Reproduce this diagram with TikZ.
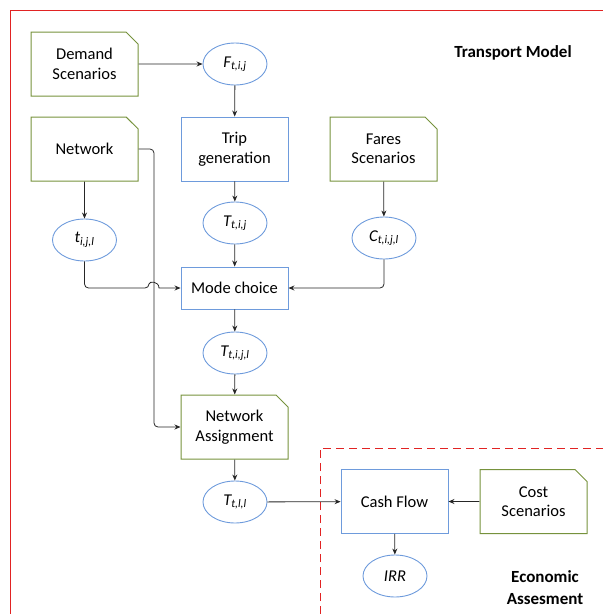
\documentclass[tikz,border=0pt]{standalone}
\usepackage{fontspec}
\setmainfont{Carlito}
\usetikzlibrary{shapes.geometric,shapes.misc,arrows.meta}
\definecolor{datagreen}{RGB}{118,146,60}
\definecolor{stepblue}{RGB}{110,155,220}
\definecolor{framered}{RGB}{225,35,35}
\newcommand{\var}[2]{\textit{#1\textsubscript{#2}}}
\tikzset{
  datafile/.style={draw=datagreen, line width=1pt, chamfered rectangle,
    chamfered rectangle corners=north east, chamfered rectangle xsep=6pt,
    chamfered rectangle ysep=6pt, minimum width=107pt, minimum height=64pt,
    inner sep=0pt, align=center},
  stepbox/.style={draw=stepblue, line width=0.9pt, rectangle, minimum width=107pt,
    minimum height=64pt, inner sep=0pt, align=center},
  varnode/.style={draw=stepblue, line width=0.9pt, ellipse, minimum width=64pt,
    minimum height=42pt, inner sep=0pt},
  conn/.style={draw=black!85, line width=0.8pt},
  title/.style={font=\fontsize{17}{22}\selectfont\bfseries, align=center}
}
\begin{document}
\begin{tikzpicture}[x=1pt, y=-1pt, >={Stealth[length=6pt,width=5pt]},
  every node/.style={font=\fontsize{16.5}{19.5}\selectfont}]
\useasboundingbox (0,0) rectangle (603,614);

% frames
\draw[framered, line width=1pt] (10,614) -- (10,10) -- (603,10);
\draw[framered, line width=1pt, dash pattern=on 8pt off 5pt] (320,614) -- (320,448) -- (603,448);

\node[title] (tm) at (513,53) {Transport Model};
\node[title] (ea) at (545,588) {Economic\\Assesment};

% transport model
\node[datafile] (demand) at (84.5,64) {Demand\\Scenarios};
\node[varnode] (ftij) at (235,64) {\var{F}{t,i,j}};
\node[datafile] (network) at (84.5,149) {Network};
\node[stepbox] (trip) at (234.5,149) {Trip\\generation};
\node[datafile] (fares) at (383.5,149) {Fares\\Scenarios};
\node[varnode] (tijl) at (84.5,240) {\var{t}{i,j,l}};
\node[varnode] (ttij) at (235,223) {\var{T}{t,i,j}};
\node[varnode] (ctijl) at (384,238) {\var{C}{t,i,j,l}};
\node[stepbox, minimum height=42pt] (mode) at (234.5,288) {Mode choice};
\node[varnode] (ttijl) at (235,353) {\var{T}{t,i,j,l}};
\node[datafile] (assign) at (234.5,427) {Network\\Assignment};
\node[varnode] (ttll) at (235,502) {\var{T}{t,l,l}};

% economic assesment
\node[stepbox] (cash) at (394.5,501.5) {Cash Flow};
\node[datafile] (cost) at (533.5,501.5) {Cost\\Scenarios};
\node[varnode] (irr) at (395,576) {\textit{IRR}};

\draw[conn,->] (demand) -- (ftij);
\draw[conn,->] (ftij) -- (trip);
\draw[conn,->] (trip) -- (ttij);
\draw[conn,->] (ttij) -- (mode);
\draw[conn,->] (network) -- (tijl);
\draw[conn,->] (fares) -- (ctijl);
\draw[conn,->] (tijl.south) [rounded corners=4pt] -- (tijl.south |- mode.west)
  -- (149,288) [sharp corners] .. controls (149,281) and (159,281) .. (159,288)
  -- (mode.west);
\draw[conn,->, rounded corners=4pt] (network.east) -- (154,149) |- (assign.west);
\draw[conn,->, rounded corners=4pt] (ctijl.south) |- (mode.east);
\draw[conn,->] (mode) -- (ttijl);
\draw[conn,->] (ttijl) -- (assign);
\draw[conn,->] (assign) -- (ttll);
\draw[conn,->] (ttll) -- (cash);
\draw[conn,->] (cost) -- (cash);
\draw[conn,->] (cash) -- (irr);

\end{tikzpicture}
\end{document}
